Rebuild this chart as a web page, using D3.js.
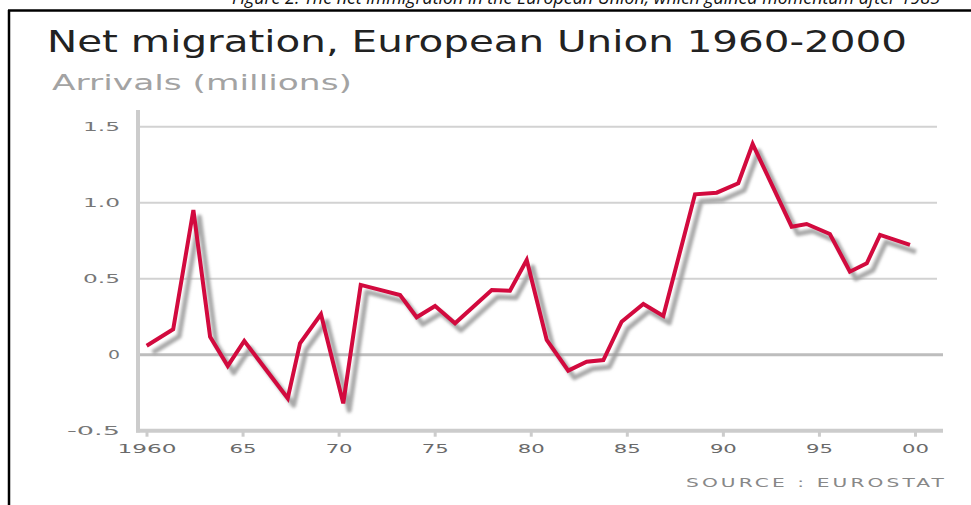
<!DOCTYPE html>
<html>
<head>
<meta charset="utf-8">
<script src="https://cdn.jsdelivr.net/npm/d3@7"></script>
<style>
  html, body { margin: 0; padding: 0; background: #fff; }
  svg { display: block; }
</style>
</head>
<body>
<svg id="chart" width="971" height="505"></svg>
<script>
// ---- data ----
const years = [1960.01, 1961.39, 1962.44, 1963.31, 1964.23, 1965.09, 1967.35, 1967.99,
  1969.08, 1970.24, 1971.15, 1973.2, 1974.06, 1975.02, 1976.06, 1977.97, 1978.92,
  1979.79, 1980.83, 1981.95, 1982.91, 1983.78, 1984.73, 1985.86, 1986.9, 1988.55,
  1989.68, 1990.8, 1991.55, 1993.58, 1994.36, 1995.57, 1996.61, 1997.49, 1998.18, 1999.74];
const arrivals = [0.059, 0.167, 0.952, 0.118, -0.074, 0.09, -0.287, 0.075,
  0.266, -0.32, 0.459, 0.393, 0.246, 0.32, 0.207, 0.426, 0.421,
  0.623, 0.097, -0.105, -0.046, -0.035, 0.217, 0.334, 0.255, 1.055,
  1.066, 1.128, 1.386, 0.842, 0.86, 0.794, 0.546, 0.601, 0.788, 0.722];
const xTickValues = [1960, 1965, 1970, 1975, 1980, 1985, 1990, 1995, 2000];
const xTickLabels = ["1960", "65", "70", "75", "80", "85", "90", "95", "00"];
const yTickValues = [-0.5, 0, 0.5, 1.0, 1.5];
const yTickLabels = ["-0.5", "0", "0.5", "1.0", "1.5"];
const captionText = "Figure 2. The net immigration in the European Union, which gained momentum after 1985";
const titleText = "Net migration, European Union 1960-2000";
const subtitleText = "Arrivals (millions)";
const sourceText = "SOURCE : EUROSTAT";

const svg = d3.select("#chart");

const x = d3.scaleLinear().domain([1960, 2000]).range([146.5, 915]);
const y = d3.scaleLinear().domain([-0.5, 1.5]).range([430.7, 126.7]);

const tickFont = "'DejaVu Sans', Verdana, sans-serif";

// frame
svg.append("line").attr("x1", 8).attr("x2", 971).attr("y1", 10.5).attr("y2", 10.5)
  .attr("stroke", "#000").attr("stroke-width", 2.5);
svg.append("line").attr("x1", 9).attr("x2", 9).attr("y1", 10).attr("y2", 505)
  .attr("stroke", "#000").attr("stroke-width", 2.5);

// caption (clipped at top, as in the source image)
svg.append("text").attr("x", 232).attr("y", 4)
  .attr("font-family", "'Open Sans', 'Liberation Sans', sans-serif")
  .attr("font-style", "italic").attr("font-size", 18).attr("fill", "#111")
  .attr("textLength", 708).attr("lengthAdjust", "spacingAndGlyphs")
  .text(captionText);

// title + subtitle
svg.append("text").attr("x", 47).attr("y", 52)
  .attr("font-family", "'DejaVu Sans', Verdana, sans-serif")
  .attr("font-size", 30).attr("fill", "#222")
  .attr("textLength", 860).attr("lengthAdjust", "spacingAndGlyphs")
  .text(titleText);
svg.append("text").attr("x", 52).attr("y", 90)
  .attr("font-family", "'DejaVu Sans', Verdana, sans-serif")
  .attr("font-size", 22).attr("fill", "#a3a3a3")
  .attr("textLength", 300).attr("lengthAdjust", "spacingAndGlyphs")
  .text(subtitleText);

// gridlines
const grid = svg.append("g");
yTickValues.filter(v => v > -0.5).forEach(v => {
  grid.append("line")
    .attr("x1", 140).attr("x2", v === 0 ? 943 : 937)
    .attr("y1", y(v)).attr("y2", y(v))
    .attr("stroke", v === 0 ? "#bdbdbd" : "#d2d2d2")
    .attr("stroke-width", v === 0 ? 3 : 2);
});

// axes frame lines
svg.append("line").attr("x1", 138).attr("x2", 138).attr("y1", 110).attr("y2", 432.5)
  .attr("stroke", "#cccccc").attr("stroke-width", 4);
svg.append("line").attr("x1", 136).attr("x2", 943).attr("y1", y(-0.5)).attr("y2", y(-0.5))
  .attr("stroke", "#cccccc").attr("stroke-width", 4);

// x axis ticks + labels via d3 axis
const xAxis = d3.axisBottom(x).tickValues(xTickValues)
  .tickFormat((d, i) => xTickLabels[i]).tickSize(6).tickPadding(10);
const gx = svg.append("g").attr("transform", `translate(0,${y(-0.5)})`).call(xAxis);
gx.select(".domain").remove();
gx.selectAll(".tick line").attr("stroke", "#cccccc").attr("stroke-width", 3);
gx.selectAll(".tick text")
  .attr("font-family", tickFont)
  .attr("font-size", 13).attr("fill", "#6a6a6a")
  .attr("textLength", (d, i) => xTickLabels[i].length * 16 - 5)
  .attr("lengthAdjust", "spacingAndGlyphs")
  .attr("dy", "0.45em");

// y axis labels via d3 axis
const yAxis = d3.axisLeft(y).tickValues(yTickValues)
  .tickFormat((d, i) => yTickLabels[i]).tickSize(0).tickPadding(0);
const gy = svg.append("g").attr("transform", "translate(120,0)").call(yAxis);
gy.select(".domain").remove();
gy.selectAll(".tick text")
  .attr("font-family", tickFont)
  .attr("font-size", 13).attr("fill", "#777")
  .attr("textLength", (d, i) => ({"-0.5": 53, "0": 12, "0.5": 37, "1.0": 37, "1.5": 37})[yTickLabels[i]])
  .attr("lengthAdjust", "spacingAndGlyphs");

// source
svg.append("text").attr("x", 686).attr("y", 486.5)
  .attr("font-family", tickFont)
  .attr("font-size", 13).attr("fill", "#888")
  .attr("textLength", 261).attr("lengthAdjust", "spacingAndGlyphs")
  .style("letter-spacing", "2px")
  .text(sourceText);

// line + shadow
const pts = years.map((yr, i) => [yr, arrivals[i]]);
const line = d3.line().x(d => x(d[0])).y(d => y(d[1]));

const defs = svg.append("defs");
defs.append("filter").attr("id", "blur").attr("x", "-10%").attr("y", "-10%")
  .attr("width", "120%").attr("height", "120%")
  .append("feGaussianBlur").attr("stdDeviation", 1.8);

svg.append("path").datum(pts).attr("d", line)
  .attr("transform", "translate(6,7)")
  .attr("fill", "none").attr("stroke", "#9a9a9a").attr("stroke-opacity", 0.85)
  .attr("stroke-width", 5).attr("stroke-linejoin", "round")
  .attr("filter", "url(#blur)");

svg.append("path").datum(pts).attr("d", line)
  .attr("fill", "none").attr("stroke", "#d20a3e")
  .attr("stroke-width", 4).attr("stroke-linejoin", "miter").attr("stroke-linecap", "butt");
</script>
</body>
</html>
